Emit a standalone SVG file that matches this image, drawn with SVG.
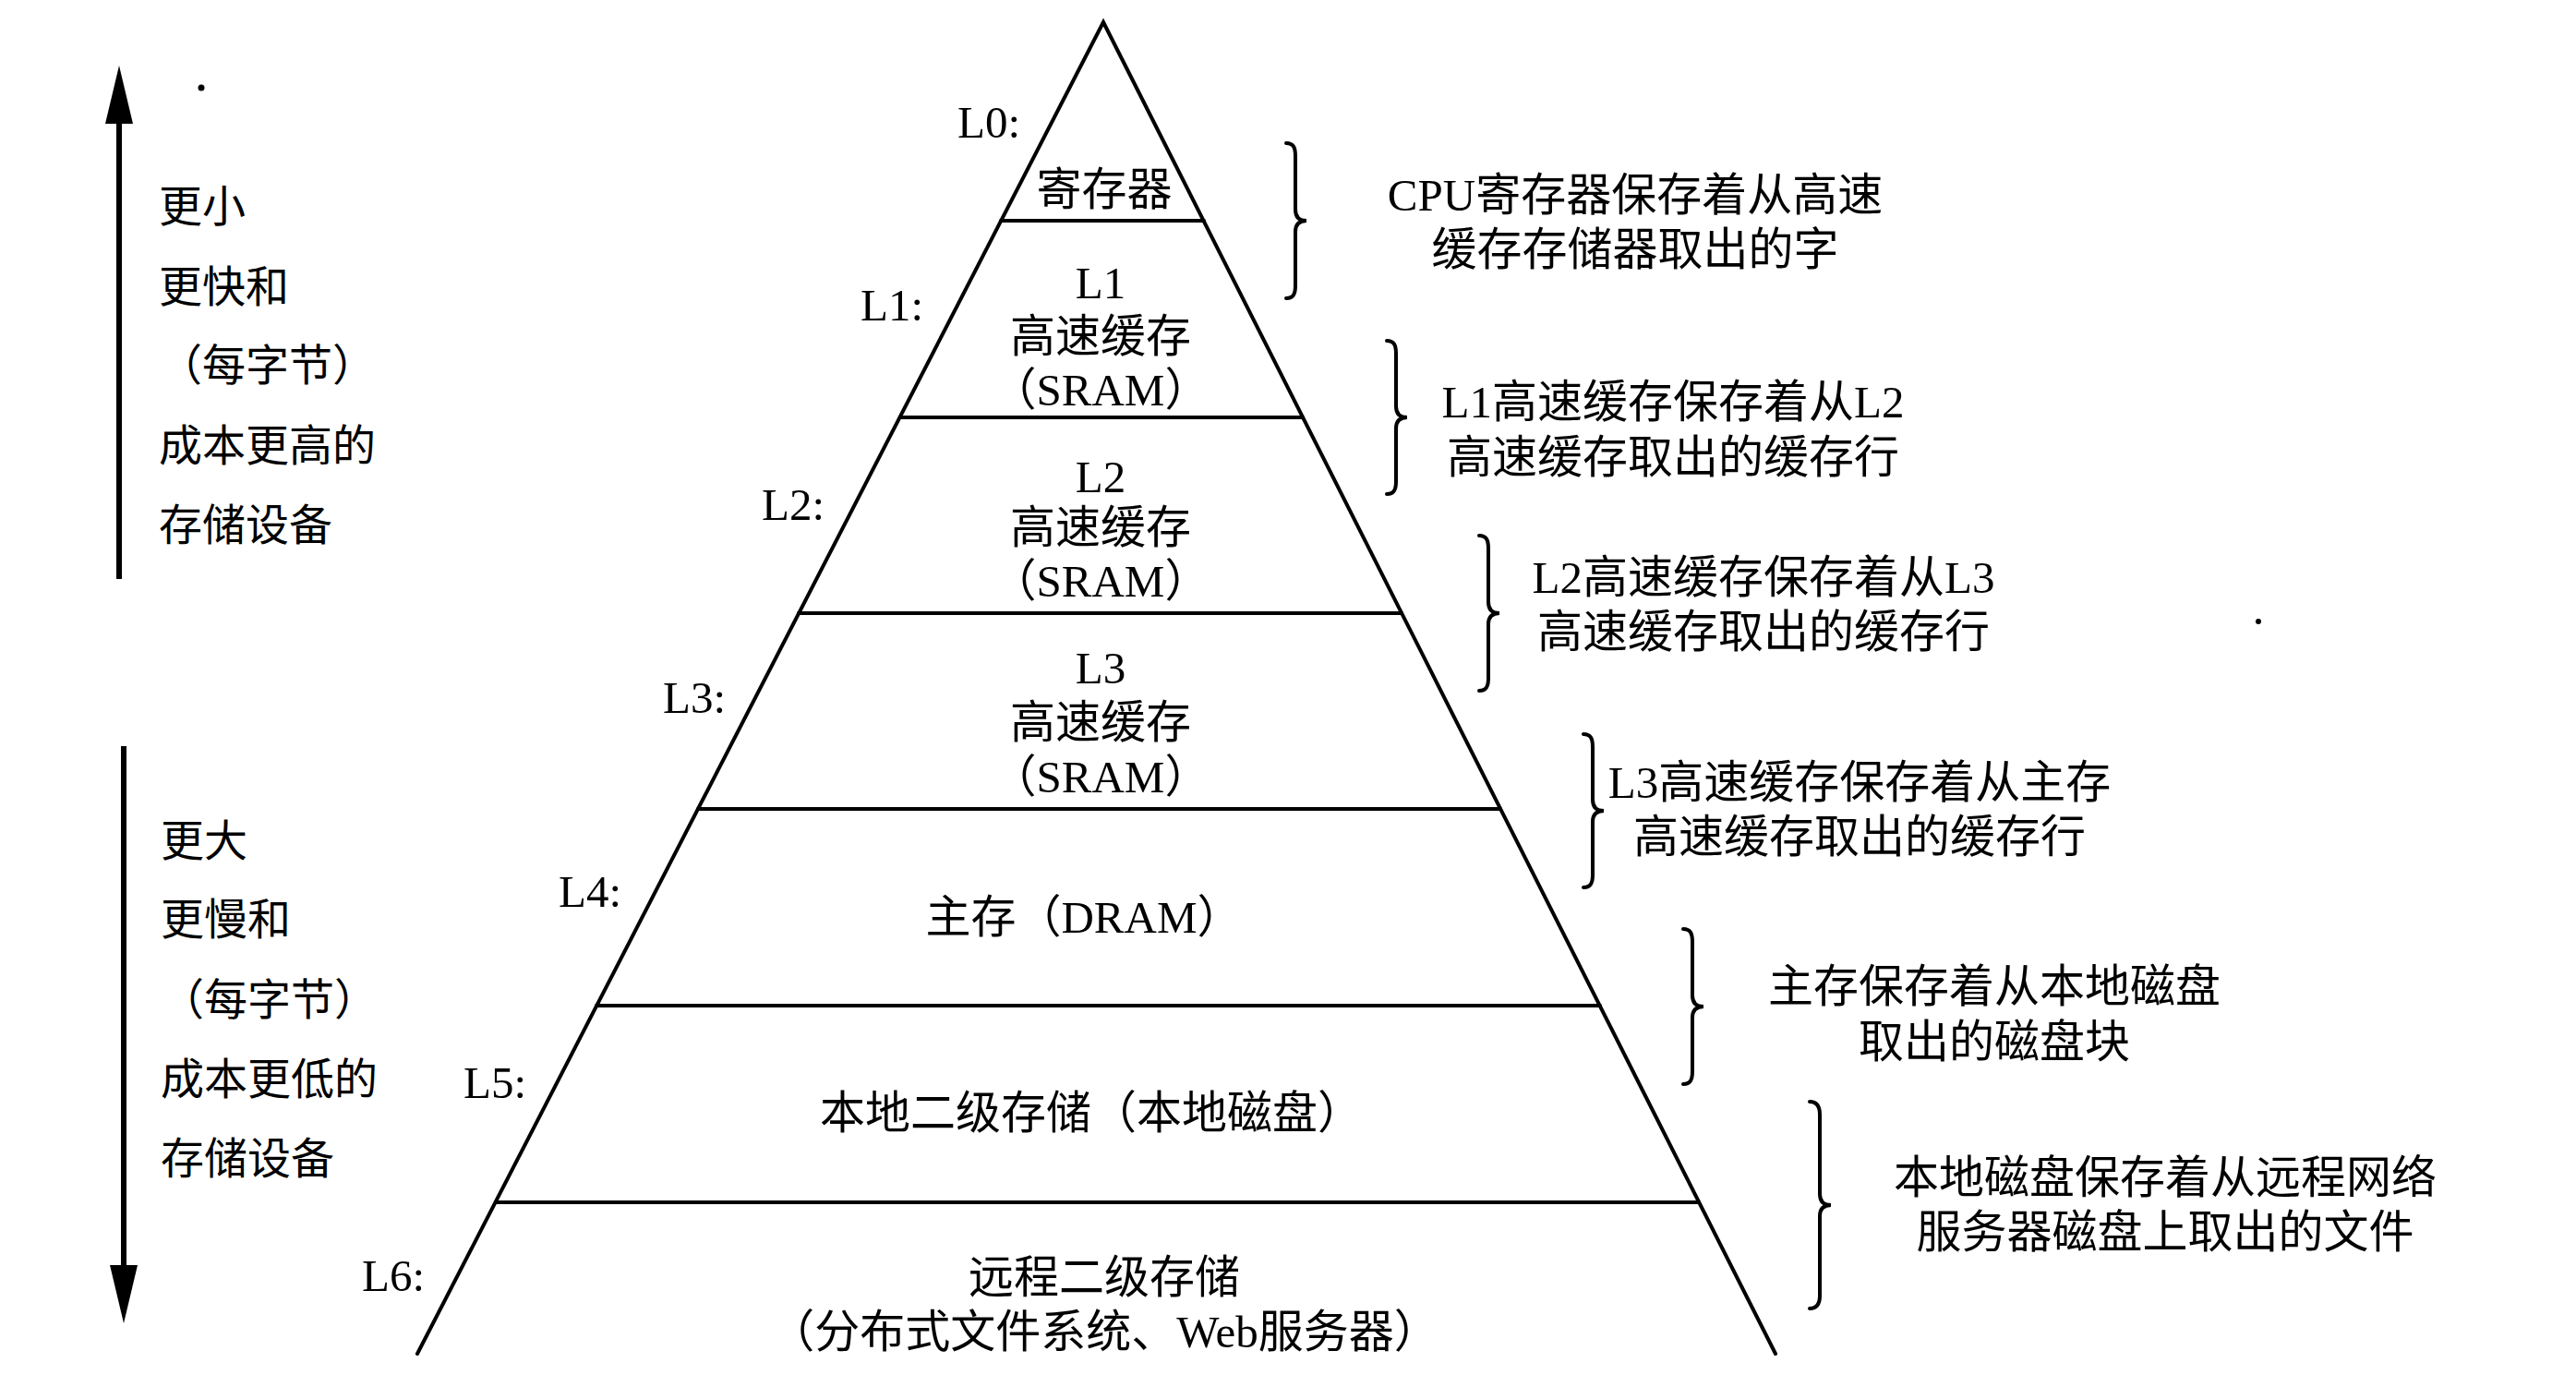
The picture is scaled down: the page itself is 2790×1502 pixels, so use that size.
<svg xmlns="http://www.w3.org/2000/svg" width="2790" height="1502" viewBox="0 0 2790 1502">
<style>
  .bg { fill: #ffffff; }
  .edge { stroke: #000; stroke-width: 4; fill: none; stroke-linecap: round; stroke-linejoin: miter; }
  .brace { stroke: #000; stroke-width: 4; fill: none; stroke-linecap: round; }
  .axis { stroke: #000; stroke-width: 6; fill: none; }
  .t { font-family: "Liberation Serif", "Noto Sans CJK SC", serif; font-size: 49px; fill: #000; dominant-baseline: central; }
  .side { font-size: 47px; }
  .c { text-anchor: middle; }
  .s { text-anchor: start; }
</style>
<defs>
  <marker id="head" markerUnits="userSpaceOnUse" markerWidth="64" markerHeight="30" refX="0" refY="15" orient="auto" viewBox="0 0 64 30">
    <path d="M0,0 L63,15 L0,30 Z" fill="#000"/>
  </marker>
</defs>
<rect class="bg" x="0" y="0" width="2790" height="1502"/>

<g id="pyramid">
  <path class="edge" d="M452 1466 L1195 24 L1923 1466"/>
</g>

<g id="level-L0">
  <text class="t s" x="1037" y="132">L0:</text>
  <text class="t c" x="1196" y="205">寄存器</text>
  <line class="edge" x1="1084" y1="239" x2="1304" y2="239"/>
</g>
<g id="level-L1">
  <text class="t s" x="932" y="330">L1:</text>
  <text class="t c" x="1192" y="306">L1</text>
  <text class="t c" x="1192" y="364">高速缓存</text>
  <text class="t c" x="1192" y="422">（SRAM）</text>
  <line class="edge" x1="975" y1="452" x2="1411" y2="452"/>
</g>
<g id="level-L2">
  <text class="t s" x="825" y="546">L2:</text>
  <text class="t c" x="1192" y="516">L2</text>
  <text class="t c" x="1192" y="571">高速缓存</text>
  <text class="t c" x="1192" y="629">（SRAM）</text>
  <line class="edge" x1="865" y1="664" x2="1518" y2="664"/>
</g>
<g id="level-L3">
  <text class="t s" x="718" y="755">L3:</text>
  <text class="t c" x="1192" y="723">L3</text>
  <text class="t c" x="1192" y="782">高速缓存</text>
  <text class="t c" x="1192" y="841">（SRAM）</text>
  <line class="edge" x1="756" y1="876" x2="1625" y2="876"/>
</g>
<g id="level-L4">
  <text class="t s" x="605" y="965">L4:</text>
  <text class="t c" x="1174" y="993">主存（DRAM）</text>
  <line class="edge" x1="646" y1="1089" x2="1733" y2="1089"/>
</g>
<g id="level-L5">
  <text class="t s" x="502" y="1172">L5:</text>
  <text class="t c" x="1182" y="1205">本地二级存储（本地磁盘）</text>
  <line class="edge" x1="537" y1="1302" x2="1840" y2="1302"/>
</g>
<g id="level-L6">
  <text class="t s" x="392" y="1381">L6:</text>
  <text class="t c" x="1196" y="1383">远程二级存储</text>
  <text class="t c" x="1196" y="1442">（分布式文件系统、Web服务器）</text>
</g>

<g id="note-L0">
  <path class="brace" d="M1393 155 C1401 155 1403 160 1403 169 L1403 227 C1403 235 1407 239 1415 239 C1407 239 1403 243 1403 251 L1403 309 C1403 318 1401 323 1393 323"/>
  <text class="t c" x="1771" y="211">CPU寄存器保存着从高速</text>
  <text class="t c" x="1771" y="270">缓存存储器取出的字</text>
</g>
<g id="note-L1">
  <path class="brace" d="M1502 369 C1510 369 1512 374 1512 383 L1512 440 C1512 448 1516 452 1524 452 C1516 452 1512 456 1512 464 L1512 521 C1512 530 1510 535 1502 535"/>
  <text class="t c" x="1812" y="435">L1高速缓存保存着从L2</text>
  <text class="t c" x="1812" y="495">高速缓存取出的缓存行</text>
</g>
<g id="note-L2">
  <path class="brace" d="M1602 580 C1610 580 1612 585 1612 594 L1612 652 C1612 660 1616 664 1624 664 C1616 664 1612 668 1612 676 L1612 734 C1612 743 1610 748 1602 748"/>
  <text class="t c" x="1910" y="625">L2高速缓存保存着从L3</text>
  <text class="t c" x="1910" y="684">高速缓存取出的缓存行</text>
</g>
<g id="note-L3">
  <path class="brace" d="M1715 795 C1723 795 1725 800 1725 809 L1725 866 C1725 874 1729 878 1737 878 C1729 878 1725 882 1725 890 L1725 947 C1725 956 1723 961 1715 961"/>
  <text class="t c" x="2014" y="847">L3高速缓存保存着从主存</text>
  <text class="t c" x="2014" y="906">高速缓存取出的缓存行</text>
</g>
<g id="note-L4">
  <path class="brace" d="M1823 1006 C1831 1006 1833 1011 1833 1020 L1833 1078 C1833 1086 1837 1090 1845 1090 C1837 1090 1833 1094 1833 1102 L1833 1160 C1833 1169 1831 1174 1823 1174"/>
  <text class="t c" x="2160" y="1068">主存保存着从本地磁盘</text>
  <text class="t c" x="2160" y="1128">取出的磁盘块</text>
</g>
<g id="note-L5">
  <path class="brace" d="M1960 1193 C1968 1193 1971 1198 1971 1207 L1971 1293 C1971 1301 1975 1305 1983 1305 C1975 1305 1971 1309 1971 1317 L1971 1403 C1971 1412 1968 1417 1960 1417"/>
  <text class="t c" x="2345" y="1275">本地磁盘保存着从远程网络</text>
  <text class="t c" x="2345" y="1334">服务器磁盘上取出的文件</text>
</g>

<g id="label-top">
  <text class="t side s" x="172" y="224">更小</text>
  <text class="t side s" x="172" y="311">更快和</text>
  <text class="t side s" x="172" y="396">（每字节）</text>
  <text class="t side s" x="172" y="483">成本更高的</text>
  <text class="t side s" x="172" y="569">存储设备</text>
</g>
<g id="label-bottom">
  <text class="t side s" x="174" y="911">更大</text>
  <text class="t side s" x="174" y="996">更慢和</text>
  <text class="t side s" x="174" y="1083">（每字节）</text>
  <text class="t side s" x="174" y="1169">成本更低的</text>
  <text class="t side s" x="174" y="1255">存储设备</text>
</g>

<g id="connectors">
  <line class="axis" x1="129" y1="627" x2="129" y2="134" marker-end="url(#head)"/>
  <line class="axis" x1="134" y1="808" x2="134" y2="1370" marker-end="url(#head)"/>
</g>

<g id="specks">
  <circle cx="218" cy="95" r="3.5" fill="#000"/>
  <circle cx="2446" cy="673" r="3" fill="#000"/>
</g>
</svg>
